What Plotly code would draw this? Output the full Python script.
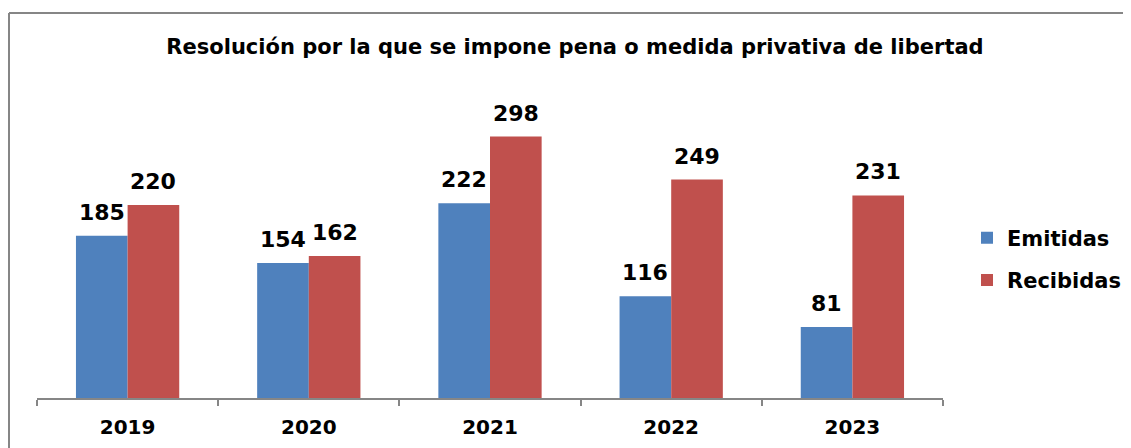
import plotly.graph_objects as go

years = ["2019", "2020", "2021", "2022", "2023"]
emitidas = [185, 154, 222, 116, 81]
recibidas = [220, 162, 298, 249, 231]

FONT = "DejaVu Sans"
# the page body has an 8px margin, so the figure is sized to fill the window
W, H = 1123, 440
L, R, T, B = 29, 188, 83, 50
pw, ph = W - L - R, H - T - B
BAR_GAP = 0.43
half = (pw / len(years)) * (1 - BAR_GAP) / 4  # half of one bar width in px

fig = go.Figure()
fig.add_trace(go.Bar(x=years, y=emitidas, name="Emitidas", marker_color="#4F81BD",
                     marker_line_width=0, legendgroup="a"))
fig.add_trace(go.Bar(x=years, y=recibidas, name="Recibidas", marker_color="#C0504D",
                     marker_line_width=0, legendgroup="b"))

lab_font = dict(family=FONT, size=22, color="black", weight="bold")
# category axis: annotation x given as the category index
for i, v in enumerate(emitidas):
    fig.add_annotation(x=i, y=v, text=str(v), showarrow=False, xshift=-half,
                       yanchor="bottom", yshift=9, font=lab_font)
for i, v in enumerate(recibidas):
    fig.add_annotation(x=i, y=v, text=str(v), showarrow=False, xshift=half,
                       yanchor="bottom", yshift=9, font=lab_font)

fig.update_layout(
    width=W, height=H,
    margin=dict(l=L, r=R, t=T, b=B),
    paper_bgcolor="white", plot_bgcolor="white",
    barmode="group", bargap=BAR_GAP, bargroupgap=0,
    title=dict(text="<b>Resolución por la que se impone pena o medida privativa de libertad</b>",
               x=(575 - 8) / W, xanchor="center", y=1 - 39 / H, yanchor="middle",
               font=dict(family=FONT, size=21, color="black")),
    font=dict(family=FONT, color="black"),
    xaxis=dict(type="category", showline=True, linecolor="#868686", linewidth=1.5,
               ticks="outside", tickson="boundaries", ticklen=6, tickcolor="#868686",
               tickwidth=1.5, tickangle=0, automargin=False, ticklabelstandoff=10,
               tickfont=dict(family=FONT, size=20, color="black", weight="bold"),
               showgrid=False),
    yaxis=dict(range=[0, 350], visible=False, showgrid=False),
    legend=dict(xref="container", yref="container",
                x=(967 - 8) / W, xanchor="left", y=1 - (259 - 8) / H, yanchor="middle",
                font=dict(family=FONT, size=21, color="black", weight="bold"),
                tracegroupgap=12, itemwidth=30),
    showlegend=True,
)
# chart frame: top and left edges (right and bottom lie outside the picture)
x_left = (1 - L) / pw
y_top = (H - B - 5) / ph
fig.add_shape(type="line", xref="paper", yref="paper",
              x0=x_left, x1=(W + 20 - L) / pw, y0=y_top, y1=y_top,
              line=dict(color="#868686", width=2), layer="below")
fig.add_shape(type="line", xref="paper", yref="paper",
              x0=x_left, x1=x_left, y0=y_top, y1=(H - B - H - 20) / ph,
              line=dict(color="#868686", width=2), layer="below")

fig.write_html("out.html")
